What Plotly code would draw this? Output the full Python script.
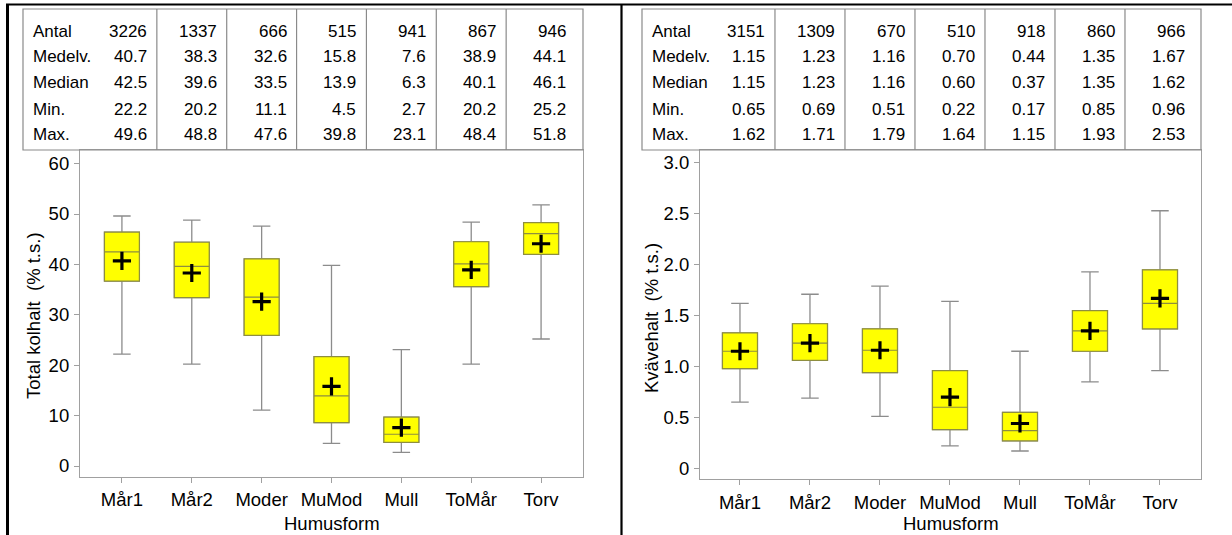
import plotly.graph_objects as go

# ---------------- data ----------------
categories = ["Mår1", "Mår2", "Moder", "MuMod", "Mull", "ToMår", "Torv"]
row_labels = ["Antal", "Medelv.", "Median", "Min.", "Max."]

# Left panel: Total kolhalt (% t.s.)
c_antal = [3226, 1337, 666, 515, 941, 867, 946]
c_mean = [40.7, 38.3, 32.6, 15.8, 7.6, 38.9, 44.1]
c_median = [42.5, 39.6, 33.5, 13.9, 6.3, 40.1, 46.1]
c_min = [22.2, 20.2, 11.1, 4.5, 2.7, 20.2, 25.2]
c_max = [49.6, 48.8, 47.6, 39.8, 23.1, 48.4, 51.8]
c_q1 = [36.7, 33.4, 25.9, 8.6, 4.7, 35.6, 42.0]
c_q3 = [46.4, 44.4, 41.1, 21.7, 9.7, 44.5, 48.3]
c_yticks = [0, 10, 20, 30, 40, 50, 60]

# Right panel: Kvävehalt (% t.s.)
n_antal = [3151, 1309, 670, 510, 918, 860, 966]
n_mean = [1.15, 1.23, 1.16, 0.70, 0.44, 1.35, 1.67]
n_median = [1.15, 1.23, 1.16, 0.60, 0.37, 1.35, 1.62]
n_min = [0.65, 0.69, 0.51, 0.22, 0.17, 0.85, 0.96]
n_max = [1.62, 1.71, 1.79, 1.64, 1.15, 1.93, 2.53]
n_q1 = [0.98, 1.06, 0.94, 0.38, 0.27, 1.15, 1.37]
n_q3 = [1.33, 1.42, 1.37, 0.96, 0.55, 1.55, 1.95]
n_yticks = [0, 0.5, 1.0, 1.5, 2.0, 2.5, 3.0]
n_yticktext = ["0", "0.5", "1.0", "1.5", "2.0", "2.5", "3.0"]

# ---------------- style ----------------
W, H = 1232, 535
FONT = "Liberation Sans, Arial, Helvetica, sans-serif"
TXT = "#000000"
AXC = "#a0a0a0"
WHISK = "#8c8c8c"
BOXLINE = "#8e8e40"
YELLOW = "#ffff00"


def px(x):
    return x / W


def py(y):
    return 1 - y / H


fig = go.Figure()


def add_panel(xa, ya, q1, med, q3, lo, hi, mean):
    # full box with gray whiskers
    fig.add_trace(go.Box(
        x=categories, q1=q1, median=med, q3=q3, lowerfence=lo, upperfence=hi,
        xaxis=xa, yaxis=ya, width=0.5, whiskerwidth=0.5, boxpoints=False,
        fillcolor=YELLOW, line=dict(color=WHISK, width=1.3), showlegend=False,
        hoverinfo="skip"))
    # box body with olive outline on top
    fig.add_trace(go.Box(
        x=categories, q1=q1, median=med, q3=q3, lowerfence=q1, upperfence=q3,
        xaxis=xa, yaxis=ya, width=0.5, whiskerwidth=0, boxpoints=False,
        fillcolor=YELLOW, line=dict(color=BOXLINE, width=1.2), showlegend=False,
        hoverinfo="skip"))
    # mean markers
    fig.add_trace(go.Scatter(
        x=categories, y=mean, xaxis=xa, yaxis=ya, mode="markers",
        marker=dict(symbol="cross-thin", size=13, line=dict(color="black", width=3.2)),
        showlegend=False, hoverinfo="skip"))


add_panel("x", "y", c_q1, c_median, c_q3, c_min, c_max, c_mean)
add_panel("x2", "y2", n_q1, n_median, n_q3, n_min, n_max, n_mean)

axis_common = dict(
    showline=True, linecolor=AXC, linewidth=1.2, mirror=True,
    ticks="outside", ticklen=5, tickcolor=AXC, tickwidth=1.2,
    showgrid=False, zeroline=False, automargin=False,
    tickfont=dict(family=FONT, size=18.5, color=TXT),
)

fig.update_layout(
    width=W, height=H, margin=dict(l=0, r=0, t=0, b=0),
    paper_bgcolor="white", plot_bgcolor="white", template="none",
    boxmode="overlay", showlegend=False,
    xaxis=dict(domain=[px(80), px(583)], anchor="y", range=[-0.6, 6.6],
               categoryorder="array", categoryarray=categories,
               ticklabelstandoff=1, **axis_common),
    yaxis=dict(domain=[py(477), py(150)], anchor="x", range=[-2.18, 62.7],
               tickvals=c_yticks, ticklabelstandoff=1, **axis_common),
    xaxis2=dict(domain=[px(700), px(1201)], anchor="y2", range=[-0.571, 6.586],
                categoryorder="array", categoryarray=categories,
                ticklabelstandoff=1, **axis_common),
    yaxis2=dict(domain=[py(479.3), py(150)], anchor="x2", range=[-0.108, 3.127],
                tickvals=n_yticks, ticktext=n_yticktext, ticklabelstandoff=1,
                **axis_common),
)

shapes = []
annotations = []


def add_table(xref, left_px, right_px, label_px, cols, fmt):
    top, bottom = 9, 150
    shapes.append(dict(type="rect", xref="paper", yref="paper",
                       x0=px(left_px), x1=px(right_px), y0=py(bottom), y1=py(top),
                       line=dict(color="#8a8a8a", width=1.2), layer="above"))
    for i in range(len(categories) - 1):
        shapes.append(dict(type="line", xref=xref, yref="paper",
                           x0=i + 0.5, x1=i + 0.5, y0=py(bottom), y1=py(top),
                           line=dict(color="#8a8a8a", width=1.2), layer="above"))
    row_y = [31, 57, 83, 109.5, 135]
    for r, lab in enumerate(row_labels):
        annotations.append(dict(xref="paper", yref="paper", x=px(label_px), y=py(row_y[r]),
                                text=lab, showarrow=False, xanchor="left", yanchor="middle",
                                font=dict(family=FONT, size=17, color=TXT)))
        for i in range(len(categories)):
            v = cols[r][i]
            t = str(v) if r == 0 else fmt.format(v)
            annotations.append(dict(xref=xref, yref="paper", x=i + 0.5, xshift=-8,
                                    y=py(row_y[r]), text=t, showarrow=False,
                                    xanchor="right", yanchor="middle",
                                    font=dict(family=FONT, size=17, color=TXT)))


add_table("x", 23, 583, 31, [c_antal, c_mean, c_median, c_min, c_max], "{:.1f}")
add_table("x2", 642, 1201, 650, [n_antal, n_mean, n_median, n_min, n_max], "{:.2f}")

# axis titles
annotations += [
    dict(xref="paper", yref="paper", x=px(33), y=py(316), text="Total kolhalt\u00a0 (% t.s.)",
         textangle=-90, showarrow=False, xanchor="center", yanchor="middle",
         font=dict(family=FONT, size=18.5, color=TXT)),
    dict(xref="paper", yref="paper", x=px(651), y=py(318), text="Kvävehalt\u00a0 (% t.s.)",
         textangle=-90, showarrow=False, xanchor="center", yanchor="middle",
         font=dict(family=FONT, size=18.5, color=TXT)),
    dict(xref="paper", yref="paper", x=px(331.5), y=py(523), text="Humusform",
         showarrow=False, xanchor="center", yanchor="middle",
         font=dict(family=FONT, size=18.5, color=TXT)),
    dict(xref="paper", yref="paper", x=px(950.5), y=py(523), text="Humusform",
         showarrow=False, xanchor="center", yanchor="middle",
         font=dict(family=FONT, size=18.5, color=TXT)),
]

# document frame lines (black)
shapes += [
    dict(type="line", xref="paper", yref="paper", x0=px(6), x1=1, y0=py(4.5), y1=py(4.5),
         line=dict(color="black", width=2), layer="above"),
    dict(type="line", xref="paper", yref="paper", x0=px(7.5), x1=px(7.5), y0=0, y1=py(4),
         line=dict(color="black", width=3), layer="above"),
    dict(type="line", xref="paper", yref="paper", x0=px(621.5), x1=px(621.5), y0=0, y1=py(4),
         line=dict(color="black", width=2.2), layer="above"),
]

fig.update_layout(shapes=shapes, annotations=annotations)

fig.write_html("out.html", config={"displayModeBar": False},
               post_script="document.body.style.margin='0';document.body.style.overflow='hidden';")
